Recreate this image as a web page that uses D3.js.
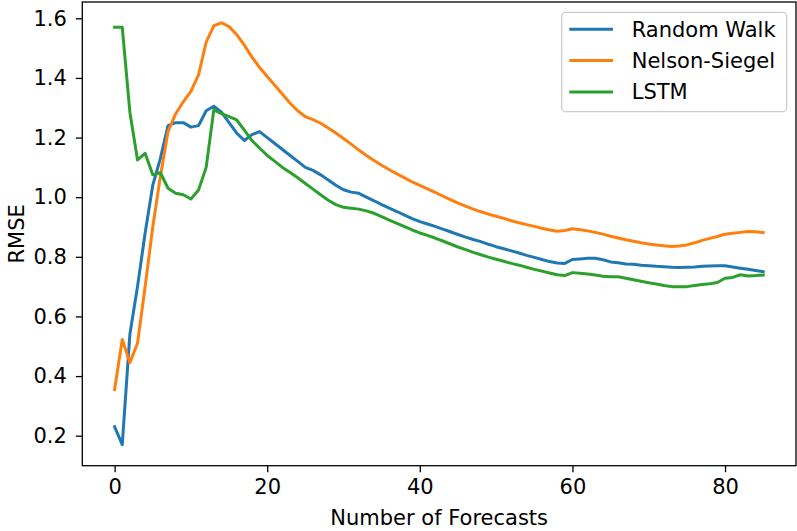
<!DOCTYPE html>
<html>
<head>
<meta charset="utf-8">
<script src="https://cdn.jsdelivr.net/npm/d3@7"></script>
<style>
  body { margin: 0; background: #fff; }
  svg { display: block; font-family: "DejaVu Sans", sans-serif; }
</style>
</head>
<body>
<svg id="chart"></svg>
<script>
// forecast horizon index 0..85
const steps = d3.range(0, 86);

const randomWalk = [
  0.23, 0.17, 0.54, 0.70, 0.88, 1.04, 1.13, 1.24, 1.25, 1.25,
  1.235, 1.24, 1.29, 1.305, 1.285, 1.25, 1.215, 1.19, 1.21, 1.22,
  1.20, 1.18, 1.16, 1.14, 1.12, 1.10, 1.09, 1.075, 1.058, 1.04,
  1.025, 1.017, 1.013, 1.00, 0.988, 0.975, 0.963, 0.952, 0.94, 0.928,
  0.918, 0.91, 0.902, 0.893, 0.884, 0.875, 0.866, 0.858, 0.851, 0.842,
  0.834, 0.827, 0.82, 0.813, 0.805, 0.798, 0.791, 0.784, 0.779, 0.778,
  0.791, 0.793, 0.795, 0.795, 0.79, 0.783, 0.78, 0.776, 0.775, 0.772,
  0.77, 0.768, 0.767, 0.765, 0.764, 0.765, 0.766, 0.768, 0.769, 0.77,
  0.77, 0.766, 0.762, 0.758, 0.754, 0.75
];

const nelsonSiegel = [
  0.355, 0.523, 0.445, 0.51, 0.70, 0.90, 1.07, 1.22, 1.28, 1.32,
  1.355, 1.41, 1.52, 1.575, 1.585, 1.572, 1.545, 1.51, 1.47, 1.435,
  1.405, 1.375, 1.345, 1.315, 1.29, 1.27, 1.26, 1.248, 1.232, 1.215,
  1.197, 1.178, 1.158, 1.14, 1.123, 1.107, 1.092, 1.078, 1.065, 1.051,
  1.04, 1.028, 1.016, 1.004, 0.992, 0.98, 0.97, 0.96, 0.951, 0.943,
  0.936, 0.929, 0.921, 0.914, 0.908, 0.902, 0.896, 0.89, 0.886, 0.888,
  0.894, 0.891, 0.887, 0.882, 0.876, 0.869, 0.863, 0.857, 0.852, 0.847,
  0.843, 0.84, 0.837, 0.835, 0.836, 0.84, 0.847, 0.855, 0.862, 0.868,
  0.876, 0.879, 0.882, 0.885, 0.884, 0.881
];

const lstm = [
  1.57, 1.57, 1.285, 1.125, 1.147, 1.075, 1.082, 1.03, 1.013, 1.008,
  0.994, 1.024, 1.10, 1.293, 1.28, 1.27, 1.259, 1.225, 1.19, 1.165,
  1.14, 1.12, 1.10, 1.083, 1.065, 1.046, 1.027, 1.008, 0.99, 0.975,
  0.966, 0.963, 0.96, 0.954, 0.946, 0.935, 0.923, 0.912, 0.901, 0.89,
  0.88, 0.872, 0.863, 0.853, 0.843, 0.833, 0.824, 0.815, 0.807, 0.799,
  0.792, 0.785, 0.778, 0.772, 0.765, 0.758, 0.752, 0.746, 0.74, 0.737,
  0.747, 0.745, 0.742, 0.739, 0.735, 0.733, 0.733, 0.728, 0.723, 0.718,
  0.713, 0.709, 0.704, 0.70, 0.70, 0.70, 0.704, 0.707, 0.71, 0.714,
  0.728, 0.731, 0.74, 0.736, 0.737, 0.739
];

const seriesNames = ["Random Walk", "Nelson-Siegel", "LSTM"];
const seriesColors = ["#1f77b4", "#ff7f0e", "#2ca02c"];
const xTicks = [0, 20, 40, 60, 80];
const yTicks = [0.2, 0.4, 0.6, 0.8, 1.0, 1.2, 1.4, 1.6];

const w = 797;
const h = 531;
const plotLeft = 82.3, plotRight = 796, plotTop = 2, plotBottom = 465.7;
const fontSize = 21;

const xScale = d3.scaleLinear()
                 .domain([-4.235, 89.3])
                 .range([plotLeft, plotRight]);

const yScale = d3.scaleLinear()
                 .domain([0.0994, 1.6547])
                 .range([plotBottom, plotTop]);

const svg = d3.select("#chart")
              .attr("width", w)
              .attr("height", h);

const line = d3.line()
               .x((d, i) => xScale(steps[i]))
               .y(d => yScale(d));

[randomWalk, nelsonSiegel, lstm].forEach((vals, k) => {
  svg.append("path")
     .datum(vals)
     .attr("fill", "none")
     .attr("stroke", seriesColors[k])
     .attr("stroke-width", 3)
     .attr("stroke-linejoin", "round")
     .attr("stroke-linecap", "square")
     .attr("d", line);
});

// axes
const xAxis = d3.axisBottom(xScale)
                .tickValues(xTicks)
                .tickSize(6.5)
                .tickPadding(7)
                .tickFormat(d3.format("d"));

const yAxis = d3.axisLeft(yScale)
                .tickValues(yTicks)
                .tickSize(6.5)
                .tickPadding(9)
                .tickFormat(d3.format(".1f"));

const gx = svg.append("g")
   .attr("transform", `translate(0, ${plotBottom})`)
   .call(xAxis);

const gy = svg.append("g")
   .attr("transform", `translate(${plotLeft}, 0)`)
   .call(yAxis);

[gx, gy].forEach(g => {
  g.select(".domain").remove();
  g.selectAll(".tick line").attr("stroke", "#000").attr("stroke-width", 1.3);
  g.selectAll(".tick text")
   .attr("fill", "#000")
   .style("font-size", fontSize + "px")
   .style("font-family", "'DejaVu Sans', sans-serif");
});

// frame
svg.append("rect")
   .attr("x", plotLeft)
   .attr("y", plotTop)
   .attr("width", plotRight - plotLeft)
   .attr("height", plotBottom - plotTop)
   .attr("fill", "none")
   .attr("stroke", "#000")
   .attr("stroke-width", 1.3);

// axis labels
svg.append("text")
   .attr("x", (plotLeft + plotRight) / 2)
   .attr("y", 525)
   .attr("text-anchor", "middle")
   .attr("fill", "#000")
   .style("font-size", fontSize + "px")
   .text("Number of Forecasts");

svg.append("text")
   .attr("transform", `translate(24, ${(plotTop + plotBottom) / 2}) rotate(-90)`)
   .attr("text-anchor", "middle")
   .attr("fill", "#000")
   .style("font-size", fontSize + "px")
   .text("RMSE");

// legend
const legend = svg.append("g");
legend.append("rect")
      .attr("x", 561.7)
      .attr("y", 12.3)
      .attr("width", 225)
      .attr("height", 99.4)
      .attr("rx", 4)
      .attr("fill", "#fff")
      .attr("fill-opacity", 0.8)
      .attr("stroke", "#ccc")
      .attr("stroke-width", 1.3);

seriesNames.forEach((name, k) => {
  const y = 29.3 + k * 31.3;
  legend.append("line")
        .attr("x1", 569.3).attr("x2", 613)
        .attr("y1", y).attr("y2", y)
        .attr("stroke", seriesColors[k])
        .attr("stroke-width", 3);
  legend.append("text")
        .attr("x", 631.7)
        .attr("y", y + 7.5)
        .attr("fill", "#000")
        .style("font-size", fontSize + "px")
        .text(name);
});
</script>
</body>
</html>
